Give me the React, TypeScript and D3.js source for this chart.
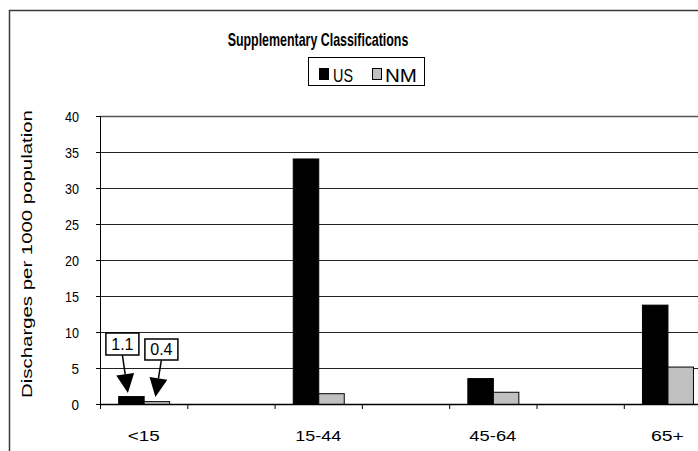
import React, { useLayoutEffect, useRef, useState } from 'react';
import * as d3 from 'd3';

const categories = ['<15', '15-44', '45-64', '65+'];
const seriesNames = ['US', 'NM'];
const usValues = [1.1, 34.1, 3.6, 13.8];
const nmValues = [0.4, 1.5, 1.7, 5.2];
const yTicks = [0, 5, 10, 15, 20, 25, 30, 35, 40];
const calloutLabels = ['1.1', '0.4'];

const W = 698;
const H = 451;
const font = "'Liberation Sans', Arial, sans-serif";

// text squeezed / stretched only along its baseline, like the source picture
function FitText(props: { x: number; y: number; width: number; size: number; anchor?: string; bold?: boolean; rotate?: number; children: string }) {
	const ref = useRef<SVGTextElement>(null);
	const [sx, setSx] = useState(1);
	useLayoutEffect(() => {
		if (!ref.current) return;
		const natural = ref.current.getComputedTextLength();
		if (natural > 0) setSx(props.width / natural);
	}, [props.width, props.children, props.size]);
	return (
		<g transform={`translate(${props.x},${props.y}) rotate(${props.rotate || 0})`}>
			<text ref={ref} transform={`scale(${sx},1)`} textAnchor={props.anchor || 'start'} fontSize={props.size} fontWeight={props.bold ? 'bold' : 'normal'}>
				{props.children}
			</text>
		</g>
	);
}

function arrow(x1: number, y1: number, x2: number, y2: number, head: number, half: number) {
	const dx = x2 - x1;
	const dy = y2 - y1;
	const len = Math.sqrt(dx * dx + dy * dy);
	const ux = dx / len;
	const uy = dy / len;
	const bx = x2 - ux * head;
	const by = y2 - uy * head;
	const line = `M${x1},${y1}L${bx},${by}`;
	const tri = `M${x2},${y2}L${bx - uy * half},${by + ux * half}L${bx + uy * half},${by - ux * half}Z`;
	return { line, tri };
}

function App() {
	// every category sits in an even slot, the odd slots are left empty
	const slots = d3.range(categories.length * 2).map(String);
	const x = d3.scaleBand().domain(slots).range([100, 798.4]).paddingInner(0).paddingOuter(0);
	const step = x.step();
	const groupW = 51;
	const xInner = d3.scaleBand().domain(seriesNames).range([(step - groupW) / 2, (step + groupW) / 2]);
	const y = d3.scaleLinear().domain([0, 40]).range([404, 116]);
	const color = d3.scaleOrdinal<string>().domain(seriesNames).range(['#000000', '#c0c0c0']);
	const values: Record<string, number[]> = { US: usValues, NM: nmValues };
	const xLabelWidth: Record<string, number> = { '<15': 32, '15-44': 46, '45-64': 47, '65+': 33 };

	const plotLeft = x.range()[0];
	const plotRight = x.range()[1];

	// callouts on the first group
	const usCx = (x('0') as number) + (xInner('US') as number) + xInner.bandwidth() / 2;
	const nmCx = (x('0') as number) + (xInner('NM') as number) + xInner.bandwidth() / 2;
	const boxes = [
		{ cx: usCx - 8.5, top: y(10) + 1, w: 33, h: 22, tx: usCx - 3, ty: y(usValues[0]) - 3 },
		{ cx: nmCx + 5, top: y(10) + 7, w: 33, h: 21, tx: nmCx - 1, ty: y(nmValues[0]) - 4 },
	];

	return (
		<svg width={W} height={H} style={{ position: 'absolute', left: 0, top: 0, background: '#fff' }} fontFamily={font}>
			{/* chart area border */}
			<path d={`M9.5,${H + 5}V10.5H${W + 5}`} fill="none" stroke="#3a3a3a" strokeWidth={1.5} />

			<FitText x={318} y={46} width={181} size={17.5} bold anchor="middle">Supplementary Classifications</FitText>

			{/* legend */}
			<rect x={308.5} y={57.5} width={116} height={28} fill="#fff" stroke="#000" strokeWidth={1} />
			<rect x={319.5} y={68.5} width={9} height={11} fill={color('US')} stroke="#000" />
			<FitText x={333} y={81.5} width={20} size={19}>US</FitText>
			<rect x={372.5} y={68.5} width={9} height={11} fill={color('NM')} stroke="#000" />
			<FitText x={385} y={81.5} width={32} size={19}>NM</FitText>

			{/* gridlines */}
			{yTicks.filter(t => t > 0).map(t => (
				<line key={'g' + t} x1={plotLeft} x2={plotRight} y1={y(t) + 0.5} y2={y(t) + 0.5} stroke={t === 40 ? '#555' : '#222'} strokeWidth={t === 40 ? 1.5 : 1} />
			))}

			{/* y axis */}
			<line x1={plotLeft + 0.5} x2={plotLeft + 0.5} y1={y(40)} y2={y(0)} stroke="#000" />
			{yTicks.map(t => (
				<g key={'y' + t}>
					<line x1={plotLeft - 4} x2={plotLeft} y1={y(t) + 0.5} y2={y(t) + 0.5} stroke="#000" />
					<FitText x={79} y={y(t) + 5.5} width={t < 10 ? 7.5 : 14} size={15} anchor="end">{String(t)}</FitText>
				</g>
			))}
			<FitText x={32} y={254} width={288} size={15} anchor="middle" rotate={-90}>Discharges per 1000 population</FitText>

			{/* bars */}
			{categories.map((c, i) => (
				<g key={c} transform={`translate(${x(String(i * 2))},0)`}>
					{seriesNames.map(s => {
						const v = values[s][i];
						return (
							<rect key={s} x={(xInner(s) as number) + 0.5} y={y(v) + 0.5} width={xInner.bandwidth()} height={y(0) - y(v)} fill={color(s)} stroke="#000" strokeWidth={1} />
						);
					})}
				</g>
			))}

			{/* x axis */}
			<line x1={plotLeft} x2={plotRight} y1={y(0) + 0.5} y2={y(0) + 0.5} stroke="#000" strokeWidth={1.5} />
			{slots.concat(['end']).map((s, i) => {
				const px = s === 'end' ? plotRight : (x(s) as number);
				return <line key={'t' + i} x1={px + 0.5} x2={px + 0.5} y1={y(0)} y2={y(0) + 5} stroke="#000" />;
			})}
			{categories.map((c, i) => (
				<FitText key={'xl' + c} x={(x(String(i * 2)) as number) + step / 2} y={441} width={xLabelWidth[c]} size={15.5} anchor="middle">{c}</FitText>
			))}

			{/* callouts */}
			{boxes.map((b, i) => {
				const a = arrow(b.cx, b.top + b.h, b.tx, b.ty, 19, 9);
				return (
					<g key={'c' + i}>
						<path d={a.line} stroke="#000" strokeWidth={1.5} fill="none" />
						<path d={a.tri} fill="#000" />
						<rect x={b.cx - b.w / 2} y={b.top} width={b.w} height={b.h} fill="#fff" stroke="#000" strokeWidth={1.5} />
						<text x={b.cx} y={b.top + b.h - 5} textAnchor="middle" fontSize={16}>{calloutLabels[i]}</text>
					</g>
				);
			})}
		</svg>
	);
}

export default App;
